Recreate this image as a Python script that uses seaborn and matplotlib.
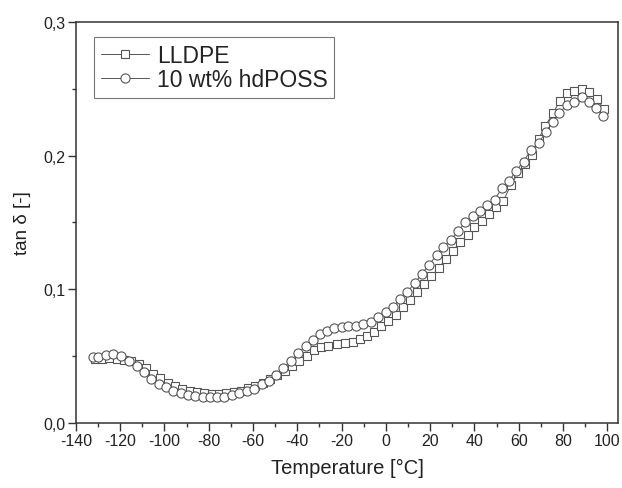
import matplotlib
matplotlib.use("Agg")
import matplotlib.pyplot as plt
import seaborn as sns
import pandas as pd
from matplotlib.ticker import MultipleLocator, FuncFormatter

# LLDPE (squares)
lldpe_t = [-131.5, -128.2, -124.9, -121.6, -118.3, -115.0, -111.7, -108.4, -105.1, -101.8,
           -98.5, -95.2, -91.9, -88.6, -85.3, -82.0, -78.7, -75.4, -72.1, -68.8,
           -65.5, -62.2, -58.9, -55.6, -52.3, -49.0, -45.7, -42.4, -39.1, -35.8,
           -32.5, -29.2, -25.9, -22.2, -18.4, -15.0, -11.6, -8.6, -5.3, -2.3,
           1.2, 4.5, 7.7, 11.0, 14.3, 17.3, 20.5, 23.8, 27.1, 30.3,
           33.6, 36.9, 40.0, 43.4, 46.7, 49.8, 53.1, 56.5, 59.7, 63.0,
           66.0, 69.0, 72.0, 75.5, 78.8, 82.0, 85.2, 88.6, 92.0, 95.3, 98.6]
lldpe_tan = [0.048, 0.048, 0.0485, 0.048, 0.047, 0.0465, 0.044, 0.041, 0.037, 0.0335,
             0.030, 0.0275, 0.0255, 0.024, 0.023, 0.0222, 0.022, 0.022, 0.0222, 0.023,
             0.0242, 0.0258, 0.0278, 0.030, 0.033, 0.036, 0.039, 0.0425, 0.046, 0.050,
             0.0545, 0.0565, 0.0578, 0.0591, 0.0598, 0.0608, 0.0628, 0.0648, 0.0678, 0.0723,
             0.0765, 0.0808, 0.0865, 0.0922, 0.0977, 0.104, 0.1097, 0.1157, 0.1227, 0.1289,
             0.1352, 0.1406, 0.1464, 0.1513, 0.1563, 0.1613, 0.1663, 0.178, 0.187, 0.194,
             0.2005, 0.2125, 0.222, 0.2319, 0.2411, 0.2469, 0.2486, 0.2498, 0.2474, 0.2424, 0.2349]

# 10 wt% hdPOSS (circles)
posss_t = [-132.2, -129.9, -126.4, -123.1, -119.4, -115.9, -112.3, -109.3, -106.2, -102.5,
           -99.3, -96.0, -92.7, -89.2, -86.2, -82.7, -79.4, -76.1, -73.0, -69.6,
           -66.2, -62.9, -59.5, -56.1, -52.8, -49.6, -46.3, -43.0, -39.5, -36.2,
           -33.0, -29.7, -26.4, -23.2, -19.9, -16.9, -13.4, -10.1, -6.8, -3.4,
           0.0, 3.1, 6.4, 9.7, 13.2, 16.2, 19.5, 23.0, 26.0, 29.4,
           32.8, 35.8, 39.3, 42.6, 45.9, 49.1, 52.4, 55.7, 58.9, 62.2,
           65.6, 69.0, 72.3, 75.3, 78.4, 81.8, 85.1, 88.6, 91.9, 95.0, 98.3]
posss_tan = [0.0496, 0.0491, 0.0509, 0.0516, 0.0504, 0.0466, 0.0429, 0.0379, 0.0329, 0.0292,
             0.0267, 0.0242, 0.0224, 0.0209, 0.0199, 0.0192, 0.0192, 0.0192, 0.0197, 0.0209,
             0.0224, 0.0242, 0.0254, 0.0292, 0.0317, 0.0359, 0.0409, 0.0466, 0.0524, 0.0578,
             0.0623, 0.0666, 0.069, 0.0708, 0.0716, 0.0723, 0.0728, 0.0741, 0.0753, 0.079,
             0.0828, 0.0865, 0.0928, 0.0982, 0.1047, 0.1115, 0.1182, 0.1257, 0.1314, 0.1369,
             0.1439, 0.1501, 0.1551, 0.1588, 0.1633, 0.167, 0.1755, 0.1812, 0.1887, 0.1955,
             0.2045, 0.2092, 0.2179, 0.2249, 0.2319, 0.2379, 0.2404, 0.2437, 0.2399, 0.2357, 0.2299]

labels = ["LLDPE", "10 wt% hdPOSS"]
x_ticks = [-140, -120, -100, -80, -60, -40, -20, 0, 20, 40, 60, 80, 100]
y_ticks = [0.0, 0.1, 0.2, 0.3]

sns.set_theme(style="ticks")
plt.rcParams['font.family'] = ['Liberation Sans', 'DejaVu Sans']
plt.rcParams['axes.unicode_minus'] = False

fig = plt.figure(figsize=(6.22, 4.89), dpi=100)
ax = fig.add_axes([0.122, 0.133, 0.872, 0.820])

edge = "#555555"
df1 = pd.DataFrame({"T": lldpe_t, "tan": lldpe_tan})
df2 = pd.DataFrame({"T": posss_t, "tan": posss_tan})

sns.lineplot(data=df1, x="T", y="tan", ax=ax, sort=False, estimator=None,
             color=edge, linewidth=0.7, marker="s", markersize=6.2,
             markerfacecolor="white", markeredgecolor=edge, markeredgewidth=0.8,
             label=labels[0])
sns.lineplot(data=df2, x="T", y="tan", ax=ax, sort=False, estimator=None,
             color=edge, linewidth=0.7, marker="o", markersize=6.6,
             markerfacecolor="white", markeredgecolor=edge, markeredgewidth=0.8,
             label=labels[1])

ax.set_xlim(-140, 105)
ax.set_ylim(0.0, 0.3)
ax.set_xticks(x_ticks)
ax.set_yticks(y_ticks)
ax.xaxis.set_minor_locator(MultipleLocator(10))
ax.yaxis.set_minor_locator(MultipleLocator(0.05))
ax.yaxis.set_major_formatter(FuncFormatter(lambda v, p: f"{v:.1f}".replace(".", ",")))

for s in ax.spines.values():
    s.set_visible(True)
    s.set_linewidth(1.1)
    s.set_color("#333333")

ax.tick_params(which="major", direction="out", length=5.5, width=1.0, color="#333333",
               labelsize=11.5, labelcolor="#222222", top=False, right=False, pad=2)
ax.tick_params(which="minor", direction="out", length=3.0, width=1.0, color="#333333",
               top=False, right=False)

ax.set_xlabel("Temperature [°C]", fontsize=14.5, color="#222222", labelpad=7)
ax.set_ylabel("tan δ [-]", fontsize=13.5, color="#222222", labelpad=9)

leg = ax.legend(loc="upper left", bbox_to_anchor=(0.033, 0.963), fontsize=16.5,
                frameon=True, fancybox=False, edgecolor="#555555", handlelength=2.1,
                handletextpad=0.35, borderpad=0.3, labelspacing=0.05, borderaxespad=0.0)
leg.get_frame().set_linewidth(0.8)
for t in leg.get_texts():
    t.set_color("#222222")

fig.savefig("out.png", dpi=100)
